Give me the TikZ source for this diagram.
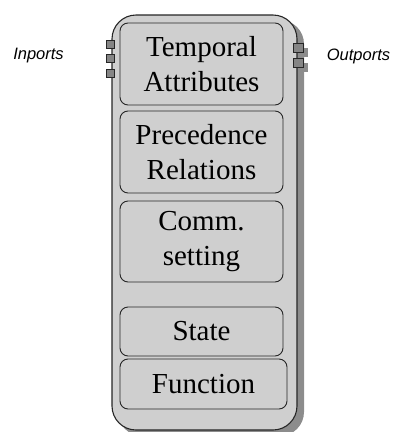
\documentclass[tikz,border=0pt]{standalone}
\usepackage{fontspec}
\setmainfont{Liberation Serif}
\newfontfamily\labelfont{Liberation Sans}
\begin{document}
\begin{tikzpicture}[x=1pt,y=-1pt,
  blockfill/.style={fill=black!19},
  shade/.style={fill=black!45,draw=none},
  outer/.style={blockfill,draw=black!85,line width=1.1pt,rounded corners=24pt},
  part/.style={blockfill,draw=black!85,line width=0.9pt,rounded corners=8pt},
  parttext/.style={font=\fontsize{29}{34.5}\selectfont,align=center,inner sep=0pt},
  port/.style={fill=black!48,draw=black!85,line width=0.8pt},
  portlabel/.style={font=\labelfont\itshape\fontsize{16.5}{19}\selectfont,inner sep=0pt}]
\useasboundingbox (0,0) rectangle (392,432);

% block body with drop shadow
\fill[shade,rounded corners=24pt] (118,20) rectangle (304,436);
\draw[outer] (112,15) rectangle (297,430);

% compartments
\draw[part] (120,23) rectangle (283,105);
\draw[part] (120,111) rectangle (283,193);
\draw[part] (120,201) rectangle (283,282);
\draw[part] (120,307) rectangle (283,356);
\draw[part] (120,359) rectangle (287,409);

\node[parttext] (temporal) at (201.5,64) {Temporal\\Attributes};
\node[parttext] (precedence) at (201.5,152) {Precedence\\Relations};
\node[parttext] (comm) at (201.5,241.5) {Comm.\\setting};
\node[parttext] (state) at (201.5,331.5) {State};
\node[parttext] (function) at (203.5,384) {Function};

% input ports
\draw[port] (106,40) rectangle (114,48);
\draw[port] (106,54) rectangle (114,62);
\draw[port] (106,69) rectangle (114,77);

% output ports with their shadow
\fill[shade] (298,48) rectangle (308,57);
\fill[shade] (298,63) rectangle (308,72);
\draw[port] (293,43) rectangle (303,52);
\draw[port] (293,58) rectangle (303,67);

\node[portlabel] (inports) at (38.5,56) {Inports};
\node[portlabel] (outports) at (358.5,56) {Outports};
\end{tikzpicture}
\end{document}
